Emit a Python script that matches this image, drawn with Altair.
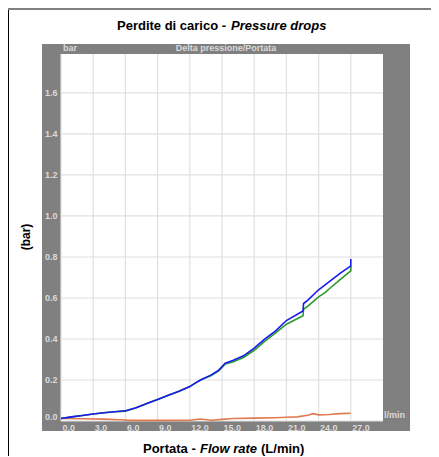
import altair as alt
import pandas as pd

# ---- data ----
blue_x = [0, 1, 2, 3, 4, 5, 6, 7, 8, 9, 10, 11, 12, 12.5, 13, 14, 14.7, 15.3, 16, 17, 18, 19, 20, 21, 22.55, 22.6, 23, 24, 25, 26, 27, 27]
blue_y = [0.012, 0.02, 0.027, 0.034, 0.04, 0.045, 0.05, 0.065, 0.085, 0.105, 0.125, 0.145, 0.168, 0.185, 0.2, 0.225, 0.248, 0.282, 0.295, 0.318, 0.355, 0.4, 0.44, 0.49, 0.537, 0.573, 0.59, 0.64, 0.68, 0.72, 0.757, 0.79]

green_x = [0, 1, 2, 3, 4, 5, 6, 7, 8, 9, 10, 11, 12, 12.5, 13, 14, 14.7, 15.3, 16, 17, 18, 19, 20, 21, 22.55, 22.6, 23, 24, 24.6, 25, 26, 27, 27]
green_y = [0.012, 0.02, 0.027, 0.034, 0.04, 0.045, 0.048, 0.065, 0.085, 0.105, 0.125, 0.145, 0.168, 0.185, 0.2, 0.222, 0.245, 0.278, 0.288, 0.31, 0.345, 0.39, 0.43, 0.472, 0.513, 0.545, 0.56, 0.605, 0.626, 0.645, 0.69, 0.732, 0.757]

orange_x = [0, 2, 4, 5.5, 6.5, 9, 12, 13, 14, 15, 16, 18, 20, 21, 22, 23, 23.5, 24, 25, 26, 27]
orange_y = [0.012, 0.011, 0.009, 0.006, 0.003, 0.003, 0.004, 0.01, 0.004, 0.008, 0.012, 0.014, 0.016, 0.018, 0.02, 0.028, 0.036, 0.03, 0.032, 0.036, 0.038]

x_ticks = [0, 3, 6, 9, 12, 15, 18, 21, 24, 27]
y_ticks = [0, 0.2, 0.4, 0.6, 0.8, 1.0, 1.2, 1.4, 1.6]

title_a = "Perdite di carico - "
title_b = "Pressure drops"
xt_a = "Portata - "
xt_b = "Flow rate"
xt_c = "(L/min)"
y_title = "(bar)"
inner_title = "Delta pressione/Portata"
y_unit = "bar"
x_unit = "l/min"

W, H = 322, 367
FONT = "Liberation Sans"
LBL = "#dadada"
PANEL = "#808080"
GRID = "#e0e0e0"

one = pd.DataFrame({"k": [0]})


def series(xs, ys):
    return pd.DataFrame({"x": xs, "y": ys, "i": list(range(len(xs)))})


x_enc = alt.X(
    "x:Q",
    scale=alt.Scale(domain=[0, 30], nice=False, zero=False),
    axis=alt.Axis(
        values=x_ticks, format=".1f", title=None, grid=False, ticks=False, domain=False,
        labelAlign="left", labelBaseline="top", labelPadding=2, labelFlush=False,
        labelFont=FONT, labelFontSize=9, labelFontWeight="bold", labelColor=LBL,
        zindex=2, labelOffset=1,
    ),
)
y_enc = alt.Y(
    "y:Q",
    scale=alt.Scale(domain=[0, 1.79], nice=False, zero=False),
    axis=alt.Axis(
        values=y_ticks, format=".1f", title=None, grid=False, ticks=False, domain=False,
        labelAlign="right", labelPadding=4, labelFlush=True,
        labelFont=FONT, labelFontSize=9, labelFontWeight="bold", labelColor=LBL,
        zindex=2,
    ),
)


def box(x1, x2, y1, y2, color):
    return alt.Chart(one).mark_rect(color=color).encode(
        x=alt.value(x1), x2=alt.value(x2), y=alt.value(y1), y2=alt.value(y2)
    )


def label(txt, x, y, size, color="black", align="left", style="normal", angle=0, baseline="alphabetic"):
    kw = dict(align=align, baseline=baseline, font=FONT, fontSize=size, fontWeight="bold",
              fontStyle=style, color=color)
    if angle:
        kw["angle"] = angle
    return alt.Chart(one).mark_text(**kw).encode(
        x=alt.value(x), y=alt.value(y), text=alt.value(txt)
    )


# frame
frame_top = box(-53, 370, -46, -44, PANEL)
frame_left = box(-53, -52, -44, 420, "black")

# grey panel strips around the plot area
p_top = box(-19, 349, -10, 0, PANEL)
p_bot = box(-19, 349, H, H + 10, PANEL)
p_left = box(-19, 0, 0, H, PANEL)
p_right = box(W, 349, 0, H, PANEL)

grid_x = alt.Chart(pd.DataFrame({"x": x_ticks})).mark_rule(color=GRID, strokeWidth=1.2).encode(x=x_enc)
grid_y = alt.Chart(pd.DataFrame({"y": y_ticks})).mark_rule(color=GRID, strokeWidth=1.2).encode(y=y_enc)


def line(xs, ys, color):
    return alt.Chart(series(xs, ys)).mark_line(color=color, strokeWidth=1.6).encode(
        x=x_enc, y=y_enc, order="i:Q"
    )


l_orange = line(orange_x, orange_y, "#e07a50")
l_green = line(green_x, green_y, "#2a9a2a")
l_blue = line(blue_x, blue_y, "#1a1aee")

texts = [
    label(title_a, 56, -24, 13),
    label(title_b, 170, -24, 13, style="italic"),
    label(xt_a, 82, 399, 13),
    label(xt_b, 139, 399, 13, style="italic"),
    label(xt_c, 200, 399, 13),
    label(y_title, -35, 183, 12, align="center", angle=270, baseline="middle"),
    label(y_unit, 2, -3, 9, color=LBL),
    label(inner_title, 165, -3, 9, color=LBL, align="center"),
    label(x_unit, 323, 364, 9, color=LBL),
]

chart = alt.layer(
    frame_top, frame_left, p_top, p_bot, p_left, p_right,
    grid_x, grid_y, l_orange, l_green, l_blue, *texts,
).properties(
    width=W, height=H,
    autosize=alt.AutoSizeParams(type="none"),
    padding={"left": 53, "top": 46, "right": 48, "bottom": 35},
    background="white",
).configure_view(stroke=None)

chart.save("out.html", embed_options={"renderer": "svg", "actions": False})
